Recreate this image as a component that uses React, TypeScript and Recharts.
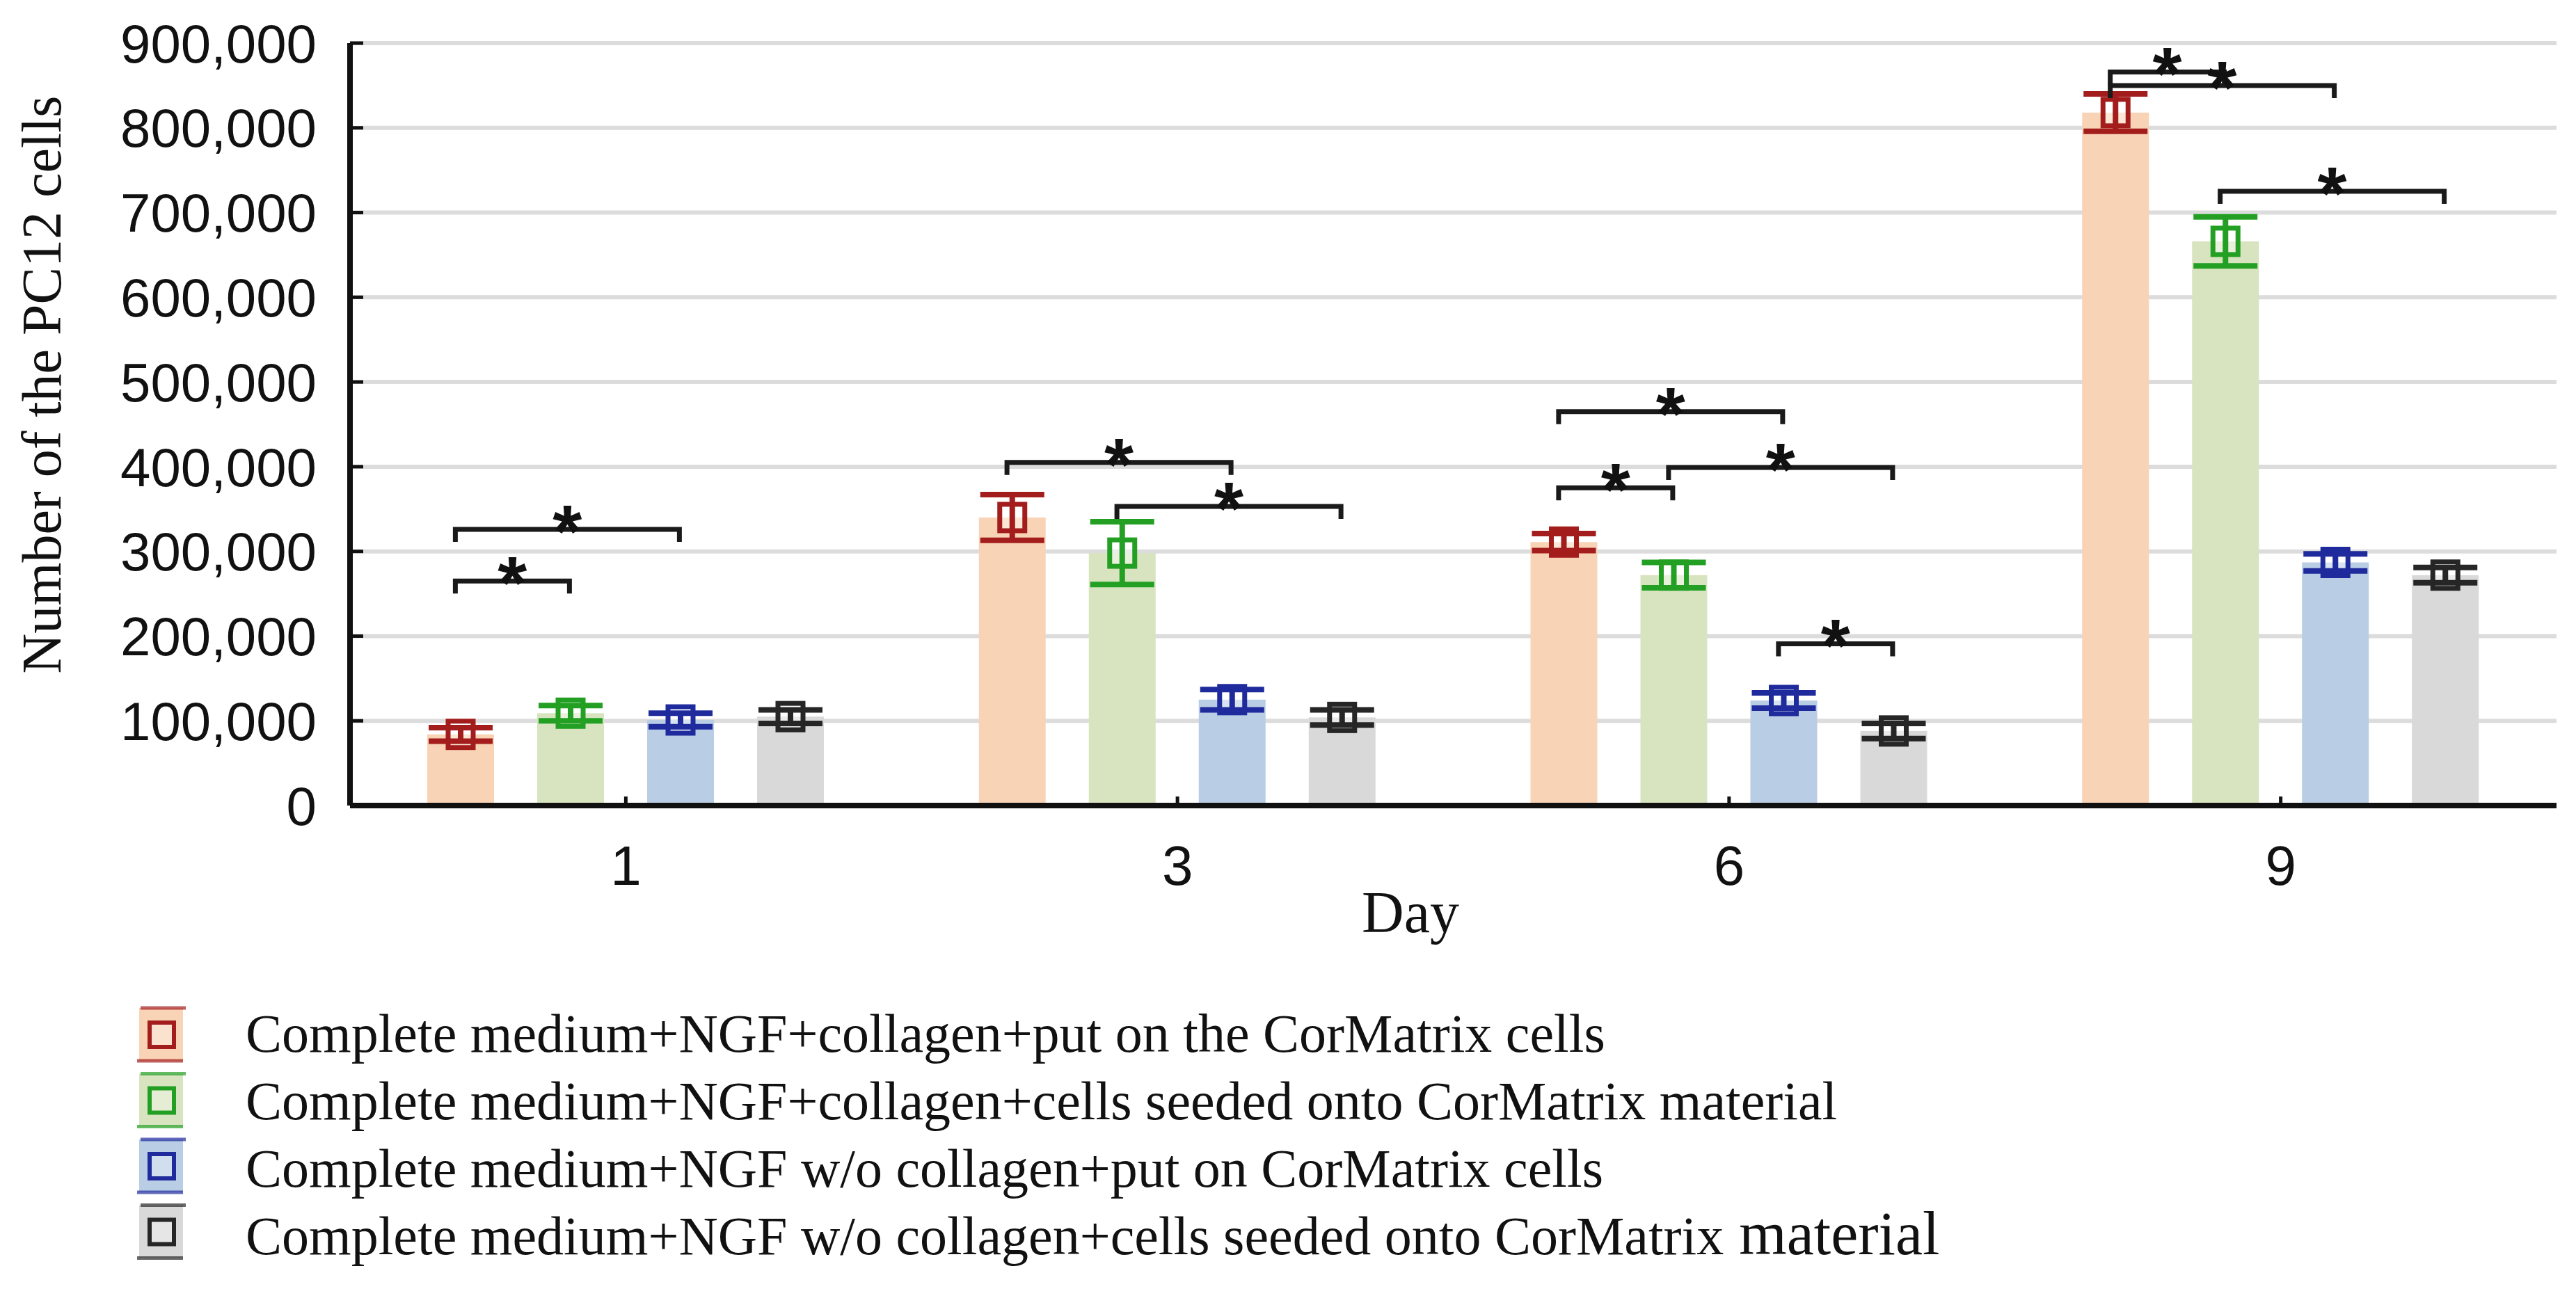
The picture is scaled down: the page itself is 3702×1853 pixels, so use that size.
import { ComposedChart, Bar, XAxis, YAxis, CartesianGrid, ErrorBar, ReferenceLine, Label } from 'recharts';

const DAYS = ['1', '3', '6', '9'];
const SERIES_NAMES = [
  'Complete medium+NGF+collagen+put on the CorMatrix cells',
  'Complete medium+NGF+collagen+cells seeded onto CorMatrix material',
  'Complete medium+NGF w/o collagen+put on CorMatrix cells',
  'Complete medium+NGF w/o collagen+cells seeded onto CorMatrix',
];
const LAST_WORD = 'material';

// mean cell counts per day
const ORANGE = [84000, 340000, 311000, 818000];
const GREEN = [109000, 298000, 272000, 666000];
const BLUE = [101000, 125000, 124000, 287000];
const GRAY = [105000, 104000, 88000, 272000];

// error half-widths
const ERR_ORANGE = [8000, 27000, 10000, 22000];
const ERR_GREEN = [9000, 37000, 15000, 29000];
const ERR_BLUE = [8000, 12000, 9000, 10000];
const ERR_GRAY = [8000, 9000, 9000, 9000];

const Y_TICKS = [0, 100000, 200000, 300000, 400000, 500000, 600000, 700000, 800000, 900000];

// significance brackets: day index, from bar, to bar, height
const BRACKET_DAY = [0, 0, 1, 1, 2, 2, 2, 2, 3, 3, 3];
const BRACKET_FROM = [0, 0, 0, 1, 0, 0, 1, 2, 0, 0, 1];
const BRACKET_TO = [1, 2, 2, 3, 1, 2, 3, 3, 1, 2, 3];
const BRACKET_Y = [265000, 326000, 405000, 353000, 375000, 465000, 399000, 191000, 866000, 850000, 725000];

const BAR_FILLS = ['#F9D3B5', '#D8E4BF', '#B9CDE5', '#D9D9D9'];
const MARK_COLORS = ['#A31D1D', '#23A023', '#1F2A9C', '#262626'];

const W = 3702;
const H = 1853;
const MARGIN = { top: 62, right: 28, bottom: 555, left: 0 };
const Y_AXIS_W = 503;
const X_AXIS_H = 140;
const BAR_SIZE = 96;
const BAR_GAP = 62;

const SERIES = [ORANGE, GREEN, BLUE, GRAY];
const ERRORS = [ERR_ORANGE, ERR_GREEN, ERR_BLUE, ERR_GRAY];

const data = DAYS.map((day, i) => {
  const row: Record<string, any> = { day };
  SERIES.forEach((vals, s) => {
    row[`v${s}`] = vals[i];
    row[`e${s}`] = ERRORS[s][i];
  });
  return row;
});

// pixel offset of a bar centre from its day's band centre
const barOffset = (bar: number) => (bar - 1.5) * (BAR_SIZE + BAR_GAP);

const makeShape = (s: number) => (props: any) => {
  const { x, y, width, height } = props;
  const cx = x + width / 2;
  return (
    <g>
      <rect x={x} y={y} width={width} height={height} fill={BAR_FILLS[s]} />
      <rect
        x={cx - 18}
        y={y - 19}
        width={36}
        height={38}
        fill="rgba(255,255,255,0.45)"
        stroke={MARK_COLORS[s]}
        strokeWidth={7}
      />
    </g>
  );
};

const makeBracket = (from: number, to: number) => (props: any) => {
  const { x1: cx, y1 } = props;
  const a = cx + barOffset(from) - 8;
  const b = cx + barOffset(to) - 2;
  return (
    <g>
      <path d={`M${a},${y1 + 18}V${y1}H${b}V${y1 + 18}`} fill="none" stroke="#1a1a1a" strokeWidth={7} />
      <text
        x={(a + b) / 2}
        y={y1 + 40}
        textAnchor="middle"
        fontFamily="Liberation Sans"
        fontWeight="bold"
        fontSize={108}
        fill="#111"
      >
        *
      </text>
    </g>
  );
};

const tickFont = { fontFamily: 'Liberation Sans', fill: '#111' };

export default function App() {
  return (
    <div style={{ position: 'absolute', left: 0, top: 0, width: W, height: H, background: '#fff' }}>
      <ComposedChart width={W} height={H} data={data} margin={MARGIN} barSize={BAR_SIZE} barGap={BAR_GAP}>
        <CartesianGrid xAxisId="cat" yAxisId="left" vertical={false} stroke="#DCDCDC" strokeWidth={6} />
        <XAxis
          xAxisId="cat"
          dataKey="day"
          height={X_AXIS_H}
          axisLine={{ stroke: '#111', strokeWidth: 8 }}
          tickLine={{ stroke: '#111', strokeWidth: 5 }}
          tickSize={-13}
          tickMargin={70}
          tick={{ ...tickFont, fontSize: 80 }}
        >
          <Label
            content={() => (
              <text x={2027} y={1340} textAnchor="middle" fontFamily="Liberation Serif" fontSize={84} fill="#111">
                Day
              </text>
            )}
          />
        </XAxis>
        <XAxis
          xAxisId="top"
          dataKey="day"
          orientation="top"
          height={0}
          axisLine={{ stroke: '#111', strokeWidth: 8 }}
          tickLine={{ stroke: '#111', strokeWidth: 5 }}
          tickSize={-13}
          tickFormatter={() => ''}
        />
        <YAxis
          yAxisId="left"
          width={Y_AXIS_W}
          domain={[0, 900000]}
          ticks={Y_TICKS}
          interval={0}
          axisLine={{ stroke: '#111', strokeWidth: 8 }}
          tickLine={{ stroke: '#111', strokeWidth: 5 }}
          tickSize={-19}
          tickMargin={67}
          tick={{ ...tickFont, fontSize: 78 }}
          tickFormatter={(v: number) => (v === 0 ? '0' : `${v / 1000},000`)}
        >
          <Label
            content={() => (
              <text
                x={87}
                y={553}
                transform="rotate(-90, 87, 553)"
                textAnchor="middle"
                fontFamily="Liberation Serif"
                fontSize={80}
                fill="#111"
              >
                Number of the PC12 cells
              </text>
            )}
          />
        </YAxis>
        <YAxis
          yAxisId="right"
          orientation="right"
          width={0}
          domain={[0, 900000]}
          ticks={Y_TICKS}
          interval={0}
          axisLine={{ stroke: '#111', strokeWidth: 8 }}
          tickLine={{ stroke: '#111', strokeWidth: 5 }}
          tickSize={-13}
          tickFormatter={() => ''}
        />
        {SERIES.map((_, s) => (
          <Bar
            key={s}
            xAxisId="cat"
            yAxisId="left"
            dataKey={`v${s}`}
            fill={BAR_FILLS[s]}
            shape={makeShape(s)}
            isAnimationActive={false}
          >
            <ErrorBar dataKey={`e${s}`} direction="y" width={46} strokeWidth={8} stroke={MARK_COLORS[s]} />
          </Bar>
        ))}
        {BRACKET_DAY.map((d, k) => (
          <ReferenceLine
            key={k}
            xAxisId="cat"
            yAxisId="left"
            segment={[
              { x: DAYS[d], y: BRACKET_Y[k] },
              { x: DAYS[d], y: BRACKET_Y[k] },
            ]}
            ifOverflow="visible"
            shape={makeBracket(BRACKET_FROM[k], BRACKET_TO[k])}
          />
        ))}
      </ComposedChart>
      <svg width={W} height={H} style={{ position: 'absolute', left: 0, top: 0, pointerEvents: 'none' }}>
        {SERIES_NAMES.map((name, s) => {
          const top = 1445 + s * 94.5;
          const base = 1512 + s * 97;
          return (
            <g key={s}>
              <rect x={200} y={top + 4} width={63} height={76} fill={BAR_FILLS[s]} />
              <line x1={202} x2={267} y1={top + 4} y2={top + 4} stroke={MARK_COLORS[s]} strokeOpacity={0.7} strokeWidth={5} />
              <line x1={197} x2={263} y1={top + 80} y2={top + 80} stroke={MARK_COLORS[s]} strokeOpacity={0.7} strokeWidth={5} />
              <rect x={215} y={top + 25} width={35} height={35} fill="rgba(255,255,255,0.35)" stroke={MARK_COLORS[s]} strokeWidth={6} />
              <text x={353} y={base} fontFamily="Liberation Serif" fontSize={78} fill="#111">
                {name}
                {s === 3 && <tspan fontSize={88}>{' ' + LAST_WORD}</tspan>}
              </text>
            </g>
          );
        })}
      </svg>
    </div>
  );
}
